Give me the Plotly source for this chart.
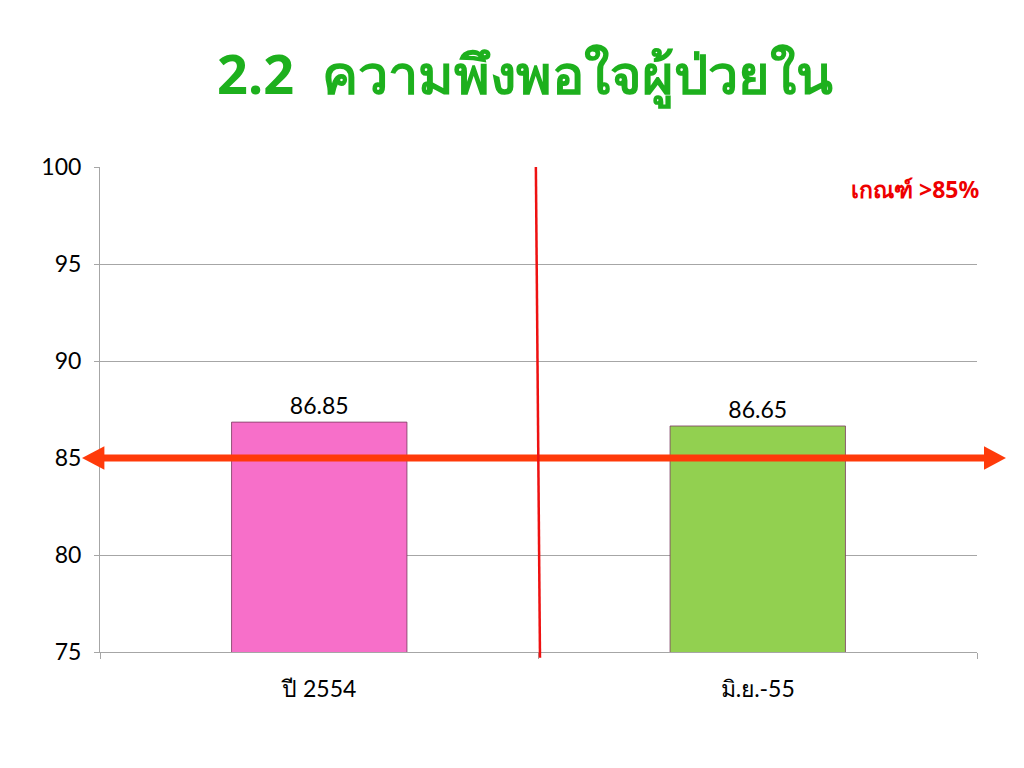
import plotly.graph_objects as go

categories = ["ปี 2554", "มิ.ย.-55"]
values = [86.85, 86.65]
bar_colors = ["#F76FC9", "#92D050"]
threshold = 85
y_ticks = [75, 80, 85, 90, 95, 100]
title_text = "2.2  ความพึงพอใจผู้ป่วยใน"
criterion_text = "เกณฑ์ >85%"

fig = go.Figure()
fig.add_trace(go.Bar(
    x=categories, y=values,
    marker=dict(color=bar_colors, line=dict(color="#7a3a60", width=0.8)),
    width=0.4,
    text=[f"{v:.2f}" for v in values], textposition="outside",
    textfont=dict(size=23, color="#000000", family="Lato, Noto Sans"),
    cliponaxis=False,
))

arrow_color = "#FF3A0A"
fig.add_shape(type="line", xref="paper", yref="y", x0=0.0, x1=1.01,
              y0=threshold, y1=threshold, line=dict(color=arrow_color, width=7))
lx0, lx1 = -0.0205, 0.005
rx0, rx1 = 1.008, 1.0330
h = 0.6
fig.add_shape(type="path", xref="paper", yref="y",
              path=f"M {lx0} {threshold} L {lx1} {threshold+h} L {lx1} {threshold-h} Z",
              fillcolor=arrow_color, line=dict(width=0))
fig.add_shape(type="path", xref="paper", yref="y",
              path=f"M {rx1} {threshold} L {rx0} {threshold+h} L {rx0} {threshold-h} Z",
              fillcolor=arrow_color, line=dict(width=0))
fig.add_shape(type="line", xref="paper", yref="paper", x0=0.497, x1=0.5017,
              y0=1.0, y1=-0.012, line=dict(color="#EE1111", width=2.5))

fig.add_annotation(text=f"<b>{criterion_text}</b>", xref="paper", yref="paper",
                   x=0.929, y=0.955, xanchor="center", yanchor="middle", showarrow=False,
                   font=dict(size=23, color="#EE0000", family="Noto Sans, DejaVu Sans"))

fig.update_layout(
    width=1024, height=768,
    paper_bgcolor="white", plot_bgcolor="white",
    margin=dict(l=92, r=55, t=159, b=124),
    title=dict(text=f"<b>{title_text}</b>", x=0.505, xanchor="center", y=0.913, yanchor="middle",
               font=dict(size=54, color="#1DB01D", family="Noto Sans, DejaVu Sans")),
    showlegend=False,
    bargap=0.6,
)
fig.update_yaxes(range=[75, 100], tickvals=y_ticks, showgrid=True, gridcolor="#A6A6A6", gridwidth=1,
                 showline=True, linecolor="#A6A6A6", ticks="outside", ticklen=5, tickcolor="#A6A6A6",
                 ticklabelstandoff=8,
                 tickfont=dict(size=23, color="#000000", family="Lato, Noto Sans"), zeroline=False)
fig.update_xaxes(showline=True, linecolor="#A6A6A6", ticks="outside", ticklen=6, tickcolor="#A6A6A6",
                 tickson="boundaries", ticklabelstandoff=16,
                 tickfont=dict(size=23, color="#000000", family="Lato, Noto Sans"))

fig.write_html("out.html")
